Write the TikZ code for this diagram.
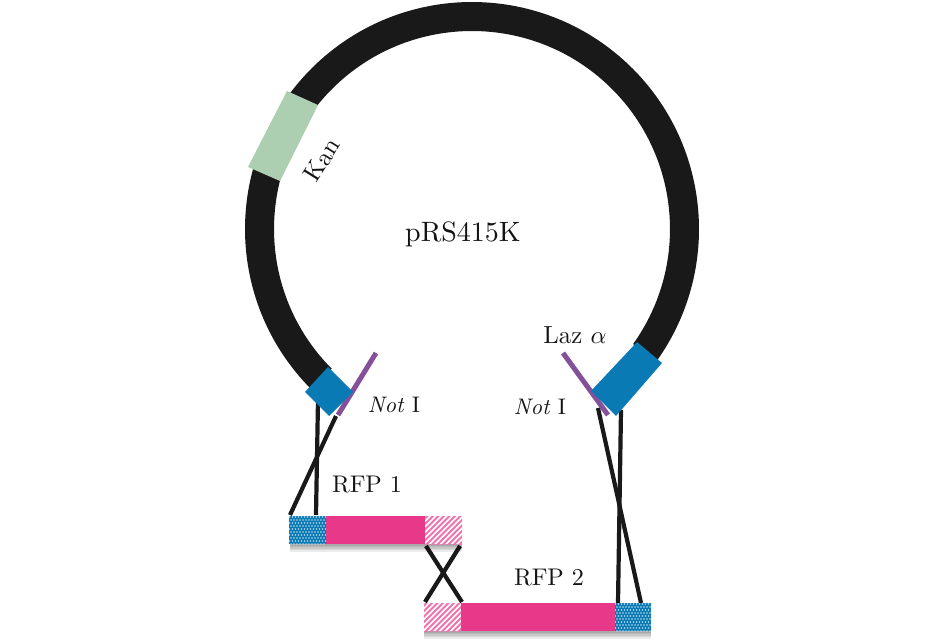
\documentclass[tikz,border=0pt]{standalone}
\usetikzlibrary{calc}
\definecolor{ringblack}{HTML}{191919}
\definecolor{kangreen}{HTML}{ABCFB0}
\definecolor{boxblue}{HTML}{0A7AB5}
\definecolor{notpurple}{HTML}{84509A}
\definecolor{barpink}{HTML}{E8388A}
\tikzset{
  lbl/.style={font=\fontsize{10}{12}\selectfont, text=black!92, inner sep=0pt},
  site/.style={notpurple, line width=5pt},
  cross/.style={ringblack, line width=4.2pt},
  softshadow/.style={fill=black, opacity=0.08, draw=none},
}
\begin{document}
\begin{tikzpicture}[x=1pt,y=-1pt]
\useasboundingbox (0,0) rectangle (945,644);
% plasmid ring
\coordinate (c) at (472,229);
\draw[ringblack, line width=29pt] (c) ++(135.2:212.5) arc[start angle=135.2, end angle=395.5, radius=212.5];
% Kan
\fill[kangreen] (287,91) -- (318,105) -- (280,181) -- (248,167) -- cycle;
% Not I sites
\coordinate (n1a) at (376,353); \coordinate (n1b) at (338,415);
\coordinate (n2a) at (563,353); \coordinate (n2b) at (608,415);
\draw[site] (n1a) -- (n1b);
\draw[site] (n2a) -- (n2b);
% homology arm crossovers
\coordinate (l1a) at (318,400); \coordinate (l1b) at (316,515);
\coordinate (l2a) at (336,416); \coordinate (l2b) at (290,515);
\coordinate (r1a) at (621,410); \coordinate (r1b) at (618,603);
\coordinate (r2a) at (598,408); \coordinate (r2b) at (641,603);
\coordinate (x1a) at (426,546); \coordinate (x1b) at (462,602);
\coordinate (x2a) at (460,546); \coordinate (x2b) at (425,602);
\foreach \a/\b in {l1a/l1b,l2a/l2b,r1a/r1b,r2a/r2b,x1a/x1b,x2a/x2b}
  \draw[cross] (\a) -- (\b);
% blue boxes on ring
\fill[boxblue] (328,367) -- (353,392) -- (329,416) -- (305,392) -- cycle;
\fill[boxblue] (637,342) -- (662,363) -- (616,416) -- (591,391) -- cycle;
% shadows
\foreach \d in {1.5,3,4.5,6,7.5}{
  \fill[softshadow] (290,544) rectangle (462,544+\d);
  \fill[softshadow] (424,631) rectangle (651,631+\d);
}
% RFP 1 bar
\fill[barpink] (326,516) rectangle (425,544);
\begin{scope}
  \clip (289,516) rectangle (326,544);
  \fill[boxblue] (289,516) rectangle (326,544);
  \foreach \i in {0,...,12}\foreach \j in {0,...,9}
    \fill[white!72!boxblue] ({289.5+3*\i+1.5*mod(\j,2)},{517+3*\j}) circle (0.9);
\end{scope}
\begin{scope}
  \clip (425,516) rectangle (462,544);
  \fill[white] (425,516) rectangle (462,544);
  \foreach \i in {0,...,14}
    \draw[barpink!70, line width=2pt] ({392+5.5*\i},546) -- ++(32,-32);
\end{scope}
% RFP 2 bar
\fill[barpink] (461,603) rectangle (615,631);
\begin{scope}
  \clip (615,603) rectangle (651,631);
  \fill[boxblue] (615,603) rectangle (651,631);
  \foreach \i in {0,...,12}\foreach \j in {0,...,9}
    \fill[white!72!boxblue] ({615.5+3*\i+1.5*mod(\j,2)},{604+3*\j}) circle (0.9);
\end{scope}
\begin{scope}
  \clip (424,603) rectangle (461,631);
  \fill[white] (424,603) rectangle (461,631);
  \foreach \i in {0,...,14}
    \draw[barpink!70, line width=2pt] ({391+5.5*\i},633) -- ++(32,-32);
\end{scope}
% labels
\node[lbl, scale=2.8] (plasmid) at (463,234) {pRS415K};
\node[lbl, scale=2.5, rotate=58] (kan) at (322,160) {Kan};
\node[lbl, scale=2.48] (laz) at (575,335) {Laz $\alpha$};
\node[lbl, scale=2.25] (not1) at (394,405) {\textit{Not} I};
\node[lbl, scale=2.25] (not2) at (540,407) {\textit{Not} I};
\node[lbl, scale=2.41] (rfp1) at (367,485) {RFP 1};
\node[lbl, scale=2.41] (rfp2) at (549,578) {RFP 2};
\end{tikzpicture}
\end{document}
